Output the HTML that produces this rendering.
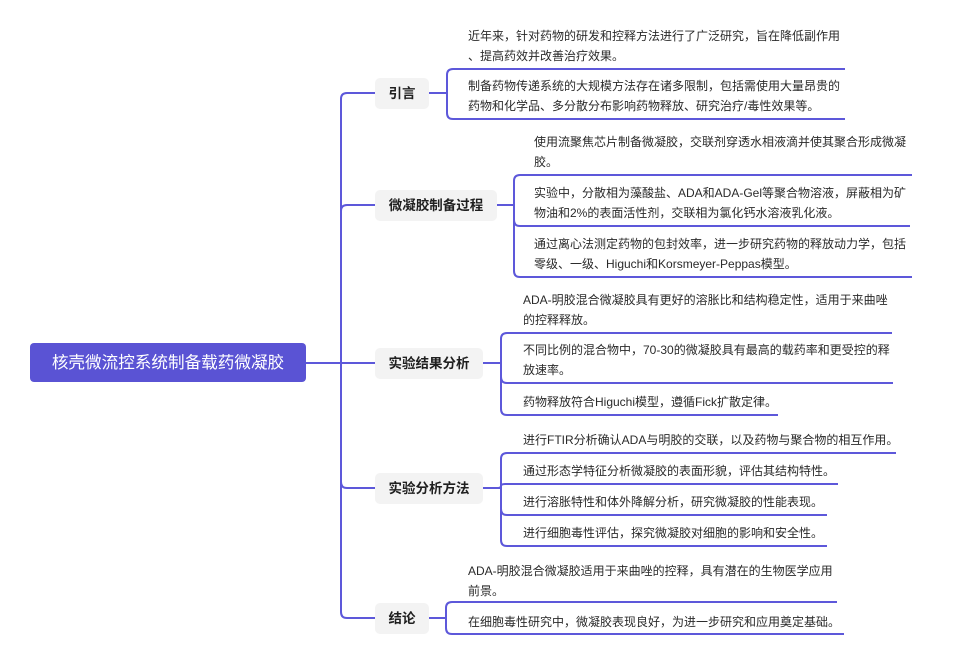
<!DOCTYPE html>
<html><head><meta charset="utf-8"><style>
html,body{margin:0;padding:0;background:#fff;}
#c{position:relative;width:955px;height:662px;overflow:hidden;background:#fff;font-family:"Liberation Sans","Noto Sans CJK SC",sans-serif;}
svg{position:absolute;left:0;top:0;}
.root{position:absolute;left:30px;top:343px;width:276px;height:39px;background:#5a53d4;border-radius:4px;color:#fff;font-size:16.6px;line-height:39px;text-align:center;white-space:nowrap;}
.br{position:absolute;height:31px;background:#f3f3f3;border-radius:5px;color:#1f1f1f;font-weight:bold;font-size:13.5px;line-height:31px;text-align:center;white-space:nowrap;}
.t{position:absolute;font-size:12px;line-height:20px;height:20px;color:#2a2a2a;white-space:nowrap;}
</style></head><body><div id="c">
<svg width="955" height="662" viewBox="0 0 955 662" fill="none" stroke="#5d58da" stroke-width="2">
<path d="M306,363 H341 V99 Q341,93 347,93 H375"/>
<path d="M306,363 H341 V211 Q341,205 347,205 H375"/>
<path d="M306,363 H375"/>
<path d="M306,363 H341 V482 Q341,488 347,488 H375"/>
<path d="M306,363 H341 V612 Q341,618 347,618 H375"/>
<path d="M429,93 H447 V75 Q447,69 453,69 H845"/>
<path d="M429,93 H447 V113 Q447,119 453,119 H845"/>
<path d="M497,205 H514 V181 Q514,175 520,175 H912"/>
<path d="M497,205 H514 V220 Q514,226 520,226 H910"/>
<path d="M497,205 H514 V271 Q514,277 520,277 H912"/>
<path d="M483,363 H501 V339 Q501,333 507,333 H892"/>
<path d="M483,363 H501 V377 Q501,383 507,383 H893"/>
<path d="M483,363 H501 V409 Q501,415 507,415 H778"/>
<path d="M483,488 H501 V459 Q501,453 507,453 H896"/>
<path d="M483,488 H497 Q501,488 501,486 Q501,484 505,484 H838"/>
<path d="M483,488 H501 V509 Q501,515 507,515 H827"/>
<path d="M483,488 H501 V540 Q501,546 507,546 H827"/>
<path d="M429,618 H446 V608 Q446,602 452,602 H837"/>
<path d="M429,618 H446 V628 Q446,634 452,634 H844"/>
</svg>

<div class="root">核壳微流控系统制备载药微凝胶</div>

<div class="br" style="left:375px;top:78px;width:54px;">引言</div>
<div class="br" style="left:375px;top:190px;width:122px;">微凝胶制备过程</div>
<div class="br" style="left:375px;top:348px;width:108px;">实验结果分析</div>
<div class="br" style="left:375px;top:473px;width:108px;">实验分析方法</div>
<div class="br" style="left:375px;top:603px;width:54px;">结论</div>

<div class="t" style="left:468px;top:26px;">近年来，针对药物的研发和控释方法进行了广泛研究，旨在降低副作用</div>
<div class="t" style="left:468px;top:46px;">、提高药效并改善治疗效果。</div>
<div class="t" style="left:468px;top:76px;">制备药物传递系统的大规模方法存在诸多限制，包括需使用大量昂贵的</div>
<div class="t" style="left:468px;top:96px;">药物和化学品、多分散分布影响药物释放、研究治疗/毒性效果等。</div>

<div class="t" style="left:534px;top:132px;">使用流聚焦芯片制备微凝胶，交联剂穿透水相液滴并使其聚合形成微凝</div>
<div class="t" style="left:534px;top:152px;">胶。</div>
<div class="t" style="left:534px;top:183px;">实验中，分散相为藻酸盐、ADA和ADA-Gel等聚合物溶液，屏蔽相为矿</div>
<div class="t" style="left:534px;top:203px;">物油和2%的表面活性剂，交联相为氯化钙水溶液乳化液。</div>
<div class="t" style="left:534px;top:234px;">通过离心法测定药物的包封效率，进一步研究药物的释放动力学，包括</div>
<div class="t" style="left:534px;top:254px;">零级、一级、Higuchi和Korsmeyer-Peppas模型。</div>

<div class="t" style="left:523px;top:290px;">ADA-明胶混合微凝胶具有更好的溶胀比和结构稳定性，适用于来曲唑</div>
<div class="t" style="left:523px;top:310px;">的控释释放。</div>
<div class="t" style="left:523px;top:340px;">不同比例的混合物中，70-30的微凝胶具有最高的载药率和更受控的释</div>
<div class="t" style="left:523px;top:360px;">放速率。</div>
<div class="t" style="left:523px;top:392px;">药物释放符合Higuchi模型，遵循Fick扩散定律。</div>

<div class="t" style="left:523px;top:430px;">进行FTIR分析确认ADA与明胶的交联，以及药物与聚合物的相互作用。</div>
<div class="t" style="left:523px;top:461px;">通过形态学特征分析微凝胶的表面形貌，评估其结构特性。</div>
<div class="t" style="left:523px;top:492px;">进行溶胀特性和体外降解分析，研究微凝胶的性能表现。</div>
<div class="t" style="left:523px;top:523px;">进行细胞毒性评估，探究微凝胶对细胞的影响和安全性。</div>

<div class="t" style="left:468px;top:561px;">ADA-明胶混合微凝胶适用于来曲唑的控释，具有潜在的生物医学应用</div>
<div class="t" style="left:468px;top:581px;">前景。</div>
<div class="t" style="left:468px;top:612px;">在细胞毒性研究中，微凝胶表现良好，为进一步研究和应用奠定基础。</div>
</div></body></html>
